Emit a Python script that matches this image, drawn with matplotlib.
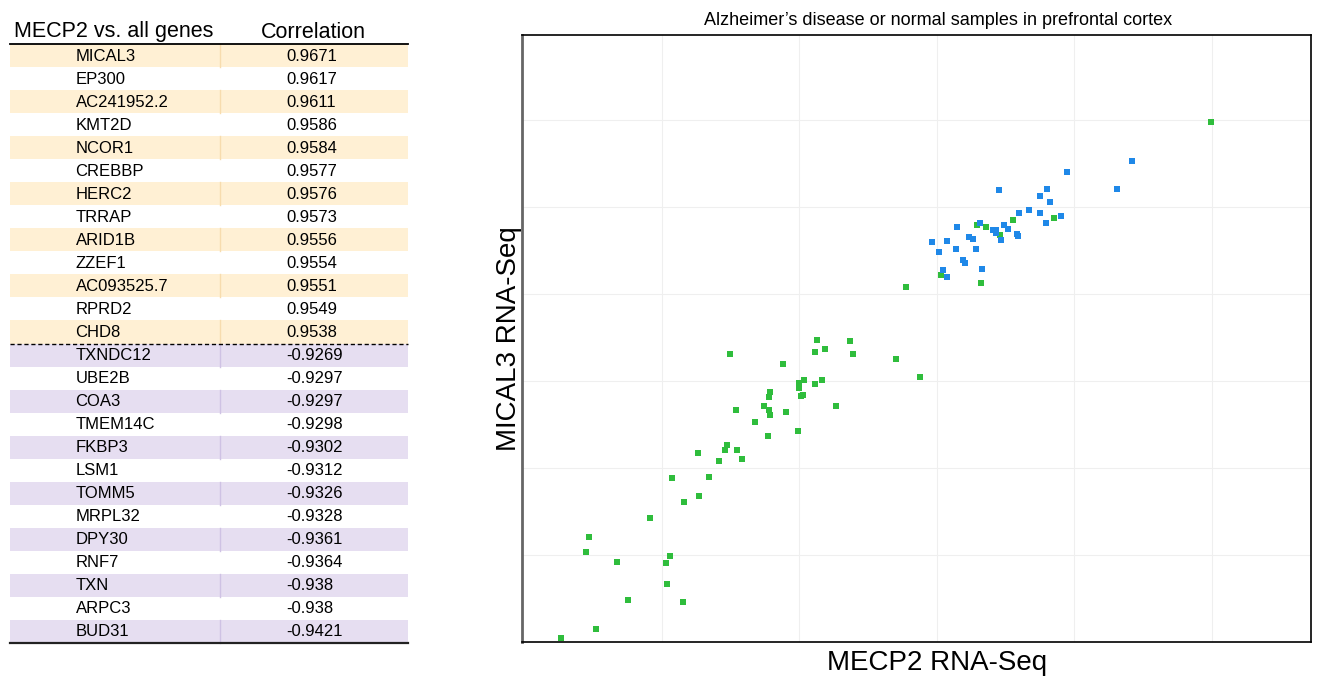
import matplotlib
matplotlib.use('Agg')
from matplotlib import pyplot as plt
from matplotlib.patches import Rectangle

plt.rcParams['font.family'] = ['Liberation Sans', 'DejaVu Sans']

# table data
genes_pos = ['MICAL3', 'EP300', 'AC241952.2', 'KMT2D', 'NCOR1', 'CREBBP', 'HERC2',
             'TRRAP', 'ARID1B', 'ZZEF1', 'AC093525.7', 'RPRD2', 'CHD8']
corr_pos = ['0.9671', '0.9617', '0.9611', '0.9586', '0.9584', '0.9577', '0.9576',
            '0.9573', '0.9556', '0.9554', '0.9551', '0.9549', '0.9538']
genes_neg = ['TXNDC12', 'UBE2B', 'COA3', 'TMEM14C', 'FKBP3', 'LSM1', 'TOMM5',
             'MRPL32', 'DPY30', 'RNF7', 'TXN', 'ARPC3', 'BUD31']
corr_neg = ['-0.9269', '-0.9297', '-0.9297', '-0.9298', '-0.9302', '-0.9312', '-0.9326',
            '-0.9328', '-0.9361', '-0.9364', '-0.938', '-0.938', '-0.9421']

# scatter data (expression, arbitrary units)
green_x = [2.125, 2.365, 1.492, 2.111, 2.188, 2.389, 2.704, 1.880, 2.876, 2.033,
           1.994, 1.994, 2.161, 2.113, 2.025, 2.011, 1.785, 1.778, 1.740, 1.778,
           1.785, 1.904, 2.265, 1.540, 1.679, 1.769, 1.989, 1.473, 1.458, 1.543,
           1.580, 1.262, 1.415, 1.342, 1.071, 1.267, 1.160, 0.913, 0.467, 0.447,
           0.671, 1.058, 1.029, 1.034, 0.751, 1.153, 0.520, 0.263,
           4.993, 2.777, 3.029, 3.318, 3.293, 3.356, 3.458, 3.551, 3.853]
green_y = [3.471, 3.460, 3.314, 3.330, 3.364, 3.314, 3.249, 3.199, 3.043, 3.011,
           2.974, 2.916, 3.015, 2.962, 2.839, 2.824, 2.870, 2.816, 2.713, 2.667,
           2.609, 2.644, 2.713, 2.670, 2.525, 2.371, 2.425, 2.264, 2.210, 2.207,
           2.103, 2.169, 2.080, 1.897, 1.882, 1.675, 1.609, 1.425, 1.210, 1.038,
           0.923, 0.985, 0.911, 0.667, 0.483, 0.460, 0.146, 0.043,
           5.974, 4.080, 4.218, 4.130, 4.790, 4.774, 4.678, 4.851, 4.874]
blue_x = [3.948, 4.418, 4.309, 3.451, 3.800, 3.751, 3.822, 3.667, 3.594, 3.751,
          3.904, 3.795, 3.148, 3.311, 3.407, 3.431, 3.487, 3.519, 3.427, 3.468,
          3.580, 3.587, 3.235, 3.262, 2.961, 3.071, 3.012, 3.138, 3.286, 3.191,
          3.201, 3.327, 3.041, 3.073]
blue_y = [5.410, 5.532, 5.207, 5.203, 5.210, 5.126, 5.057, 4.962, 4.934, 4.931,
          4.893, 4.813, 4.770, 4.820, 4.736, 4.736, 4.793, 4.751, 4.698, 4.621,
          4.690, 4.667, 4.655, 4.636, 4.601, 4.613, 4.479, 4.514, 4.517, 4.394,
          4.360, 4.291, 4.279, 4.199]

W, H = 1320, 682
fig = plt.figure(figsize=(W / 100, H / 100), dpi=100)

# ---- table on the left (pixel coordinates) ----
tax = fig.add_axes([0, 0, 1, 1])
tax.set_xlim(0, W)
tax.set_ylim(H, 0)
tax.axis('off')

x0, x1 = 10, 408
top = 44
rh = (643 - 44) / 26.0
rows = [(g, c, 'pos') for g, c in zip(genes_pos, corr_pos)] + \
       [(g, c, 'neg') for g, c in zip(genes_neg, corr_neg)]
for i, (g, c, kind) in enumerate(rows):
    y = top + i * rh
    j = i if kind == 'pos' else i - len(genes_pos)
    if j % 2 == 0:
        fc = '#fff0d4' if kind == 'pos' else '#e6def1'
        lc = '#f7dcae' if kind == 'pos' else '#cfc2e4'
        tax.add_patch(Rectangle((x0, y), x1 - x0, rh, fc=fc, ec='none'))
        tax.plot([220, 220], [y, y + rh], color=lc, lw=1)
    tax.text(75.5, y + rh / 2 + 0.5, g, fontsize=12, va='center', ha='left')
    tax.text(286, y + rh / 2 + 0.5, c, fontsize=12, va='center', ha='left')

tax.text(14, 32, 'MECP2 vs. all genes', fontsize=15.5, va='center', ha='left')
tax.text(313, 32, 'Correlation', fontsize=15.5, va='center', ha='center')
tax.plot([x0, x1], [43.5, 43.5], color='black', lw=1.3)
ysep = top + len(genes_pos) * rh
tax.plot([x0, x1], [ysep, ysep], color='black', lw=1, ls=(0, (3, 2)))
tax.plot([x0, x1], [643, 643], color='#222222', lw=1.6)

# ---- scatter plot ----
ax = fig.add_axes([522 / W, (H - 642) / H, (1311 - 522) / W, (642 - 35) / H])
ax.scatter(green_x, green_y, marker='s', s=25, color='#2fbd3c', linewidths=0, zorder=3)
ax.scatter(blue_x, blue_y, marker='s', s=25, color='#1f88e8', linewidths=0, zorder=4)
ax.set_xlim(-0.018, 5.72)
ax.set_ylim(0, 6.98)
ax.set_xticks([1, 2, 3, 4, 5])
ax.set_yticks([1, 2, 3, 4, 5, 6])
ax.tick_params(length=0, labelbottom=False, labelleft=False)
ax.grid(True, color='#efefef', lw=0.8)
ax.set_axisbelow(True)
for s in ['top', 'right', 'bottom']:
    ax.spines[s].set_color('black')
    ax.spines[s].set_linewidth(1.2)
ax.spines['left'].set_color('#666666')
ax.spines['left'].set_linewidth(2)

ax.set_xlabel('MECP2 RNA-Seq', fontsize=20, labelpad=6, x=0.526)
ax.set_ylabel('MICAL3 RNA-Seq', fontsize=20, labelpad=0)
ax.set_title("Alzheimer\u2019s disease or normal samples in prefrontal cortex",
             fontsize=13, pad=7, x=0.527)

fig.savefig('out.png', dpi=100)
